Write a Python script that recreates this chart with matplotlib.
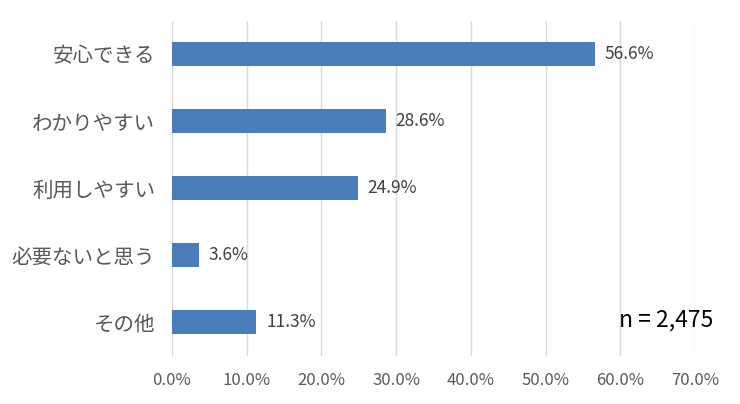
import matplotlib
matplotlib.use("Agg")
import matplotlib.pyplot as plt
from matplotlib.ticker import FuncFormatter, MultipleLocator

plt.rcParams['font.family'] = ['Noto Sans CJK JP', 'DejaVu Sans']

categories = ["安心できる", "わかりやすい", "利用しやすい", "必要ないと思う", "その他"]
values = [56.6, 28.6, 24.9, 3.6, 11.3]
sample_note = "n = 2,475"

fig = plt.figure(figsize=(7.40, 4.04), dpi=100)
ax = fig.add_axes([0.2324, 0.12, 0.7068, 0.829])

y = list(range(len(categories)))
ax.barh(y, values, height=0.36, color="#4a7ebb", zorder=3)
ax.set_ylim(len(categories) - 0.5, -0.5)
ax.set_xlim(0, 70)
ax.xaxis.set_major_locator(MultipleLocator(10))
ax.xaxis.set_major_formatter(FuncFormatter(lambda v, p: f"{v:.1f}%"))
ax.set_yticks(y)
ax.set_yticklabels(categories)
ax.grid(axis="x", color="#d9d9d9", linewidth=1, zorder=0)
for s in ax.spines.values():
    s.set_visible(False)
ax.tick_params(axis="both", length=0, colors="#595959")
ax.tick_params(axis="y", labelsize=14.8, pad=12)
ax.tick_params(axis="x", labelsize=12, pad=12)

for yi, v in zip(y, values):
    ax.text(v + 1.3, yi, f"{v:.1f}%", va="center", ha="left", fontsize=12.5, color="#404040")

ax.text(1.036, 0.106, sample_note, transform=ax.transAxes, ha="right", va="center",
        fontsize=16.5, color="black")

fig.savefig("out.png", dpi=100)
